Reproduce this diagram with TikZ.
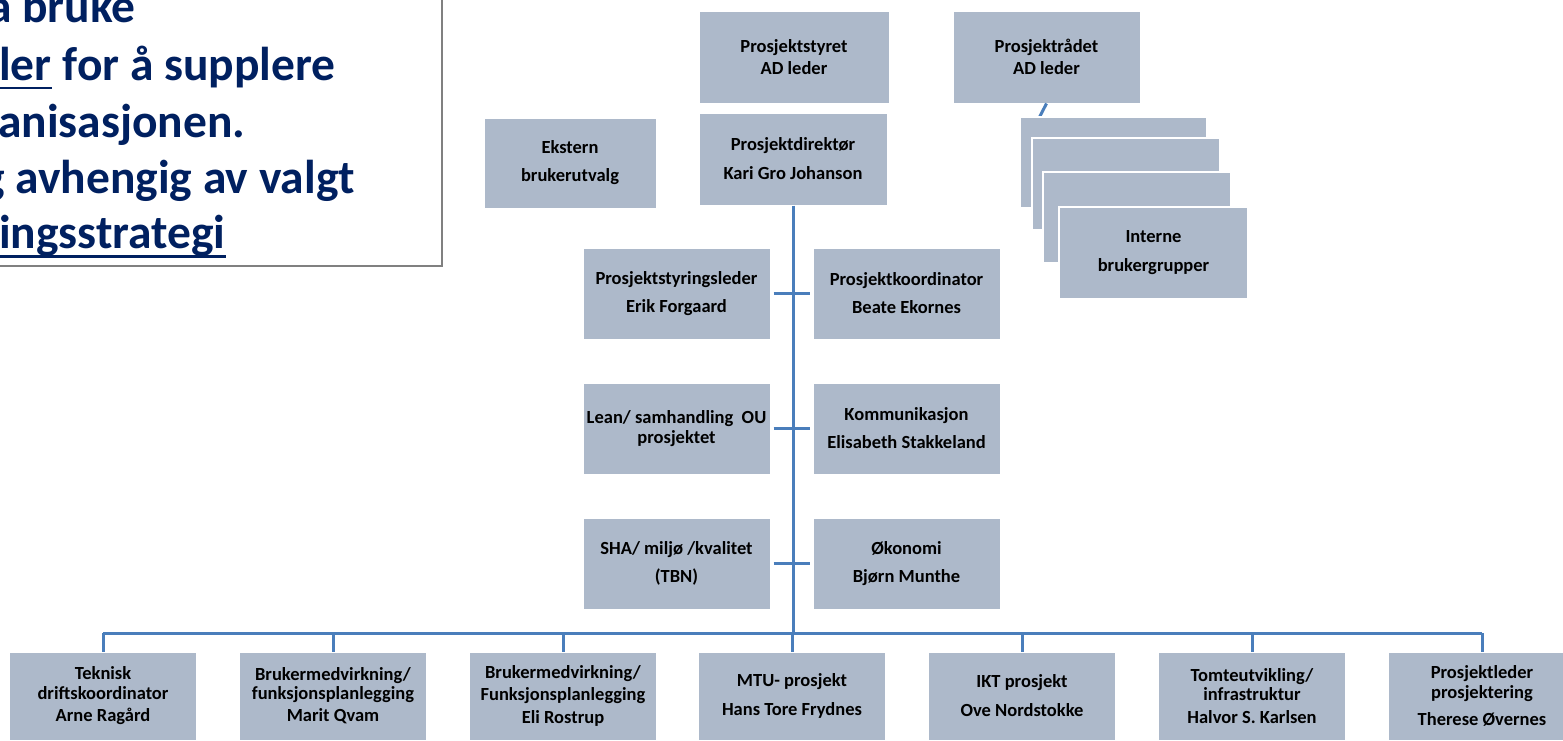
\documentclass[tikz,border=0pt]{standalone}
\usepackage{fontspec}
\setmainfont{Carlito}
\definecolor{boxfill}{RGB}{173,185,202}
\definecolor{conn}{RGB}{74,126,187}
\definecolor{navy}{RGB}{0,32,96}
\begin{document}
\begin{tikzpicture}[x=1pt,y=-1pt,
  box/.style={fill=boxfill, draw=white, line width=1pt, inner sep=0pt, align=center,
    font=\fontsize{18.5}{21}\selectfont\bfseries, text=black},
  mbox/.style={box, minimum width=187, minimum height=91},
  bbox/.style={box, minimum width=187, minimum height=88},
  stackbox/.style={box, draw=white, line width=1.5pt},
  conn/.style={draw=conn, line width=3pt},
  bigtxt/.style={anchor=base west, inner sep=0pt, text=navy, font=\fontsize{47.5}{56}\selectfont\bfseries},
  ul/.style={draw=navy, line width=2.6pt}]
\useasboundingbox (0,0) rectangle (1563,740);
\clip (0,0) rectangle (1563,740);
\fill[white] (0,0) rectangle (1563,740);

% text frame (cut by the picture edge)
\draw[draw=gray, line width=1.5pt] (-10,-10) rectangle (442,266);
\node[bigtxt] (l1) at (-12,22) {a bruke};
\node[bigtxt] (l2a) at (-1,80) {ler};
\node[bigtxt] (l2b) at (l2a.base east) {\ for å supplere};
\node[bigtxt] (l3) at (-2,137) {anisasjonen.};
\node[bigtxt] (l4) at (-18,193) {g avhengig av valgt};
\node[bigtxt] (l5) at (-1,248) {ingsstrategi};
\draw[ul] ([yshift=-8pt]l2a.base west) -- ([yshift=-8pt]l2a.base east);
\draw[ul] ([yshift=-8.5pt]l5.base west) -- ([yshift=-8.5pt]l5.base east);

% top boxes
\node[box, minimum width=190, minimum height=92] (styret) at (794,57) {Prosjektstyret\\[1pt]AD leder};
\node[box, minimum width=187, minimum height=92] (raadet) at (1046.5,57) {Prosjektrådet\\[1pt]AD leder};
\node[box, minimum width=172, minimum height=90] (ekstern) at (570,163) {Ekstern\\[7pt]brukerutvalg};
\node[box, minimum width=188, minimum height=92] (dir) at (793,159) {Prosjektdirektør\\[8pt]Kari Gro Johanson};

% interne brukergrupper stack
\coordinate (rA) at (1039,118);
\draw[conn] (raadet.south) -- (rA);
\node[stackbox, minimum width=187, minimum height=91] (sA) at (1113.5,162.5) {};
\node[stackbox, minimum width=188, minimum height=92] (sB) at (1126,184) {};
\node[stackbox, minimum width=188, minimum height=91] (sC) at (1137,217.5) {};
\node[stackbox, minimum width=189, minimum height=92] (sD) at (1153.5,253) {Interne\\[8pt]brukergrupper};

% staff boxes
\node[mbox] (psl) at (676.5,293.5) {Prosjektstyringsleder\\[7pt]Erik Forgaard};
\node[mbox] (pk) at (906.5,293.5) {Prosjektkoordinator\\[7pt]Beate Ekornes};
\node[mbox] (lean) at (676.5,428.5) {Lean/ samhandling\ \ OU\\[-1pt]prosjektet};
\node[mbox] (komm) at (906.5,428.5) {Kommunikasjon\\[7pt]Elisabeth Stakkeland};
\node[mbox] (sha) at (676.5,563.5) {SHA/ miljø /kvalitet\\[7pt](TBN)};
\node[mbox] (oko) at (906.5,563.5) {Økonomi\\[7pt]Bjørn Munthe};

% bottom boxes
\node[bbox] (b1) at (103,696) {Teknisk\\[-1pt]driftskoordinator\\[1pt]Arne Ragård};
\node[bbox] (b2) at (333,696) {Brukermedvirkning/\\[-2pt]funksjonsplanlegging\\[1pt]Marit Qvam};
\node[bbox] (b3) at (563,696) {Brukermedvirkning/\\[1pt]Funksjonsplanlegging\\[2pt]Eli Rostrup};
\node[bbox] (b4) at (792,696) {MTU- prosjekt\\[8pt]Hans Tore Frydnes};
\node[bbox] (b5) at (1022,696) {IKT prosjekt\\[8pt]Ove Nordstokke};
\node[bbox] (b6) at (1252,696) {Tomteutvikling/\\[-2pt]infrastruktur\\[2pt]Halvor S. Karlsen};
\node[bbox] (b7) at (1482,696) {Prosjektleder\\[-1pt]prosjektering\\[6pt]Therese Øvernes};

% connectors
\coordinate (bus) at (792,633);
\draw[conn] (dir.south) -- (dir.south |- bus);
\draw[conn] (b1.north |- bus) -- (b7.north |- bus);
\foreach \b in {b1,b2,b3,b4,b5,b6,b7}
  \draw[conn] (\b.north |- bus) -- (\b.north);
\draw[conn, shorten <=3pt, shorten >=3pt] (psl.east) -- (pk.west);
\draw[conn, shorten <=3pt, shorten >=3pt] (lean.east) -- (komm.west);
\draw[conn, shorten <=3pt, shorten >=3pt] (sha.east) -- (oko.west);
\end{tikzpicture}
\end{document}
